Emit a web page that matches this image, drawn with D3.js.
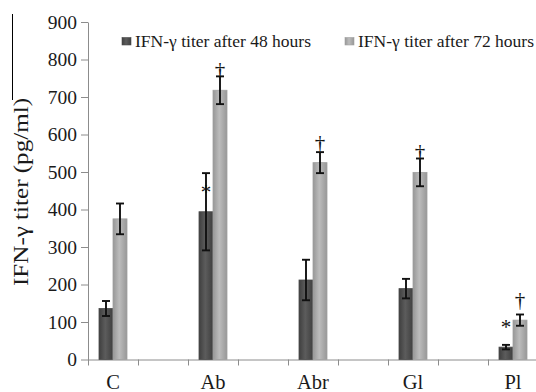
<!DOCTYPE html>
<html>
<head>
<meta charset="utf-8">
<script src="https://cdn.jsdelivr.net/npm/d3@7"></script>
<style>
  body { margin: 0; background: #fff; }
</style>
</head>
<body>
<svg width="536" height="392"></svg>
<script>
// data
const categories = ["C", "Ab", "Abr", "Gl", "Pl"];
const seriesNames = ["IFN-\u03b3 titer after 48 hours", "IFN-\u03b3 titer after 72 hours"];
const titer48 = [136, 394, 212, 189, 33];
const err48 = [20, 103, 54, 26, 6];
const titer72 = [375, 718, 525, 499, 105];
const err72 = [41, 37, 28, 37, 15];
const mark48 = ["", "*", "", "", "*"];
const mark72 = ["", "\u2020", "\u2020", "\u2020", "\u2020"];
const yTicks = [0, 100, 200, 300, 400, 500, 600, 700, 800, 900];

const FONT = '"Liberation Serif", "Times New Roman", Times, "DejaVu Serif", serif';

const svg = d3.select('svg');

// gradients to mimic the bevelled bars
const defs = svg.append('defs');
const grad = (id, edge, mid) => {
    const g = defs.append('linearGradient').attr('id', id)
        .attr('x1', 0).attr('x2', 1).attr('y1', 0).attr('y2', 0);
    g.append('stop').attr('offset', '0%').attr('stop-color', edge);
    g.append('stop').attr('offset', '45%').attr('stop-color', mid);
    g.append('stop').attr('offset', '100%').attr('stop-color', edge);
};
grad('g48', '#3f3f3f', '#5c5c5c');
grad('g72', '#979797', '#bcbcbc');
const fills = ['url(#g48)', 'url(#g72)'];

// the axis has 10 slots, categories sit in every other one
const nSlots = 10;
const xSlot = d3.scaleBand().domain(d3.range(nSlots)).range([88, 588]);
const xEdge = d3.scaleLinear().domain([0, nSlots]).range([88, 588]);
const xSub = d3.scaleBand().domain([0, 1]).range([11, 39]);
const y = d3.scaleLinear().domain([0, 900]).range([359.5, 22]);

const catX = i => xSlot(i * 2);

// y axis
const gy = svg.append('g').attr('transform', 'translate(88,0)')
    .call(d3.axisLeft(y).tickValues(yTicks).tickSize(7).tickPadding(4).tickSizeOuter(0));
gy.attr('font-family', FONT).attr('font-size', 19.5);
gy.selectAll('path, line').attr('stroke', '#8c8c8c');
gy.selectAll('text').attr('fill', '#1a1a1a');

// x axis
const gx = svg.append('g').attr('transform', 'translate(0,359.5)')
    .call(d3.axisBottom(xEdge).tickValues(d3.range(nSlots + 1)).tickSize(6).tickSizeOuter(0).tickFormat(''));
gx.selectAll('path, line').attr('stroke', '#8c8c8c');

svg.append('g').selectAll('text')
    .data(categories)
    .join('text')
    .attr('x', (d, i) => catX(i) + xSlot.bandwidth() / 2)
    .attr('y', 389)
    .attr('text-anchor', 'middle')
    .attr('font-family', FONT)
    .attr('font-size', 20.5)
    .attr('fill', '#1a1a1a')
    .text(d => d);

// bars
const rows = categories.map((c, i) => [
    { i, s: 0, v: titer48[i], e: err48[i], m: mark48[i] },
    { i, s: 1, v: titer72[i], e: err72[i], m: mark72[i] }
]).flat();

svg.append('g').selectAll('rect')
    .data(rows)
    .join('rect')
    .attr('x', d => catX(d.i) + xSub(d.s))
    .attr('y', d => y(d.v))
    .attr('width', xSub.bandwidth())
    .attr('height', d => y(0) - y(d.v))
    .attr('fill', d => fills[d.s])
    .attr('stroke', d => d.s ? '#a0a0a0' : '#4a4a4a')
    .attr('stroke-width', 0.8);

// error bars
const eb = svg.append('g').attr('stroke', '#111').attr('stroke-width', 1.9);
const cx = d => catX(d.i) + xSub(d.s) + xSub.bandwidth() / 2;
eb.selectAll('line.v').data(rows).join('line').attr('class', 'v')
    .attr('x1', cx).attr('x2', cx)
    .attr('y1', d => y(d.v + d.e)).attr('y2', d => y(d.v - d.e));
eb.selectAll('line.t').data(rows).join('line').attr('class', 't')
    .attr('x1', d => cx(d) - 4).attr('x2', d => cx(d) + 4)
    .attr('y1', d => y(d.v + d.e)).attr('y2', d => y(d.v + d.e));
eb.selectAll('line.b').data(rows).join('line').attr('class', 'b')
    .attr('x1', d => cx(d) - 4).attr('x2', d => cx(d) + 4)
    .attr('y1', d => y(d.v - d.e)).attr('y2', d => y(d.v - d.e));

// significance marks just above the bar top
svg.append('g').selectAll('text')
    .data(rows.filter(d => d.m))
    .join('text')
    .attr('x', cx)
    .attr('y', d => y(d.v) - 13)
    .attr('text-anchor', 'middle')
    .attr('font-family', FONT)
    .attr('font-size', 21)
    .attr('fill', '#111')
    .text(d => d.m);

// legend
const legX = [122, 345];
const leg = svg.append('g').selectAll('g')
    .data(seriesNames)
    .join('g')
    .attr('transform', (d, i) => `translate(${legX[i]},37.5)`);
leg.append('rect').attr('width', 9).attr('height', 7.5)
    .attr('fill', (d, i) => fills[i])
    .attr('stroke', (d, i) => i ? '#a0a0a0' : '#4a4a4a').attr('stroke-width', 0.6);
leg.append('text').attr('x', 13).attr('y', 9.3)
    .attr('font-family', FONT)
    .attr('font-size', 16.5).attr('fill', '#1a1a1a')
    .attr('textLength', 176).attr('lengthAdjust', 'spacingAndGlyphs')
    .text(d => d);

// y title
svg.append('text')
    .attr('transform', 'translate(28,192) rotate(-90)')
    .attr('text-anchor', 'middle')
    .attr('font-family', FONT)
    .attr('font-size', 20)
    .attr('fill', '#1a1a1a')
    .attr('textLength', 188).attr('lengthAdjust', 'spacingAndGlyphs')
    .text('IFN-\u03b3 titer (pg/ml)');

// stray frame line at the left edge
svg.append('line').attr('x1', 12.5).attr('x2', 12.5).attr('y1', 14).attr('y2', 100)
    .attr('stroke', '#000').attr('stroke-width', 1);
</script>
</body>
</html>
